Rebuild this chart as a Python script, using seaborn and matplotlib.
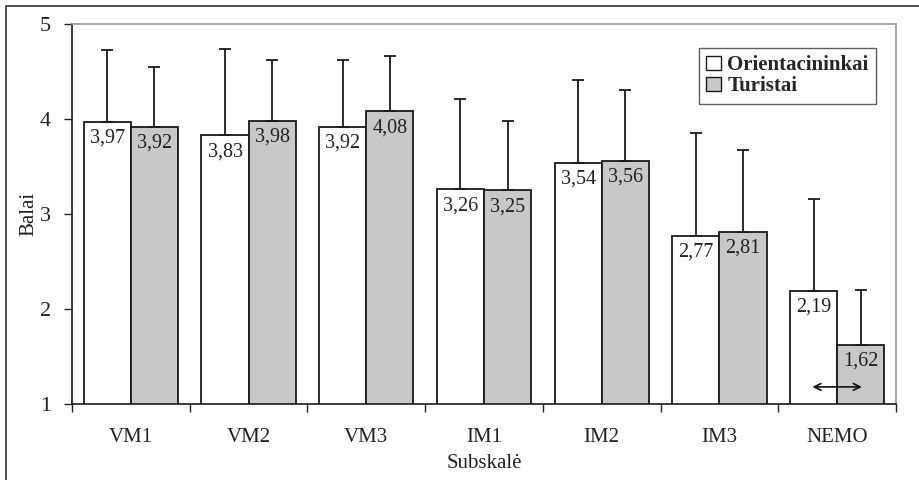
import numpy as np
import pandas as pd
import matplotlib
matplotlib.use("Agg")
import matplotlib.pyplot as plt
import seaborn as sns
from matplotlib.patches import Rectangle

subscales = ["VM1", "VM2", "VM3", "IM1", "IM2", "IM3", "NEMO"]
groups = ["Orientacininkai", "Turistai"]
orient_means = [3.97, 3.83, 3.92, 3.26, 3.54, 2.77, 2.19]
turist_means = [3.92, 3.98, 4.08, 3.25, 3.56, 2.81, 1.62]
orient_sd = [0.76, 0.91, 0.70, 0.95, 0.87, 1.08, 0.97]
turist_sd = [0.63, 0.64, 0.58, 0.73, 0.75, 0.86, 0.58]
y_ticks = [1, 2, 3, 4, 5]

df = pd.DataFrame({
    "Subskalė": subscales * 2,
    "grupė": [groups[0]] * len(subscales) + [groups[1]] * len(subscales),
    "Balai": orient_means + turist_means,
    "sd": orient_sd + turist_sd,
})

sns.set_style("white")
plt.rcParams["font.family"] = ["Liberation Serif", "DejaVu Serif"]
plt.rcParams["font.size"] = 14

fig = plt.figure(figsize=(9.2, 4.8), dpi=100)
ax = fig.add_axes([72 / 920, 76 / 480, 824 / 920, 380 / 480])

palette = {groups[0]: "#ffffff", groups[1]: "#c8c8c8"}
sns.barplot(data=df, x="Subskalė", y="Balai", hue="grupė", palette=palette,
            order=subscales, hue_order=groups, width=0.8, gap=0,
            errorbar=None, edgecolor="#1a1a1a", linewidth=1.3,
            saturation=1, ax=ax, legend=True)

# upward-only error bars and value labels inside bar tops
for container, grp in zip(ax.containers, groups):
    sub = df[df["grupė"] == grp].set_index("Subskalė").loc[subscales]
    xs = [p.get_x() + p.get_width() / 2 for p in container]
    means = sub["Balai"].to_numpy()
    sds = sub["sd"].to_numpy()
    ax.errorbar(xs, means, yerr=[np.zeros_like(sds), sds], fmt="none",
                ecolor="#1a1a1a", elinewidth=1.3, capsize=4.5, capthick=1.3,
                zorder=1)
    for x, m in zip(xs, means):
        ax.annotate(f"{m:.2f}".replace(".", ","), (x, m), xytext=(0, -5),
                    textcoords="offset points", ha="center", va="top",
                    fontsize=14.5, color="#222222", zorder=5)

ax.set_ylim(1, 5)
ax.set_xlim(-0.5, len(subscales) - 0.5)
ax.set_yticks(y_ticks)
ax.set_yticklabels([str(t) for t in y_ticks], fontsize=16, color="#222222")
ax.set_xticks(range(len(subscales)))
ax.set_xticklabels(subscales, fontsize=15, color="#222222")
ax.tick_params(axis="x", length=0, pad=17)
ax.tick_params(axis="y", direction="out", length=6, width=1, color="#222222", left=True, pad=9)
# category boundary ticks on the x axis
ax.set_xticks(np.arange(-0.5, len(subscales), 1), minor=True)
ax.tick_params(axis="x", which="minor", direction="out", length=6, width=1,
               color="#222222", bottom=True)

ax.set_xlabel("Subskalė", fontsize=15, color="#222222", labelpad=5)
ax.set_ylabel("Balai", fontsize=15, color="#222222", labelpad=1)

for side in ["left", "bottom"]:
    ax.spines[side].set_color("#1a1a1a")
    ax.spines[side].set_linewidth(1.2)
for side in ["top", "right"]:
    ax.spines[side].set_visible(True)
    ax.spines[side].set_color("#9a9a9a")
    ax.spines[side].set_linewidth(1.2)

# double-headed arrow under the NEMO bars
ax.annotate("", xy=(6.21, 1.18), xytext=(5.79, 1.18),
            arrowprops=dict(arrowstyle="<->", color="#111111", lw=1.2,
                            shrinkA=0, shrinkB=0, mutation_scale=12))

leg = ax.legend(loc="upper left", bbox_to_anchor=((699 - 72) / 824, (404 - 48) / 380),
                frameon=True, fancybox=False, handlelength=0.7, handleheight=0.7,
                handletextpad=0.3, borderpad=0.35, labelspacing=0.05,
                borderaxespad=0, prop={"weight": "bold", "size": 15})
leg.get_frame().set_edgecolor("#333333")
leg.get_frame().set_linewidth(1.0)
for h in leg.legend_handles:
    h.set_edgecolor("#1a1a1a")
    h.set_linewidth(1.0)

# outer frame around the figure (left and top edges)
fig.patches.append(Rectangle((6 / 920, -0.1), 1.2, (480 - 6) / 480 + 0.1,
                             transform=fig.transFigure, fill=False,
                             edgecolor="#333333", linewidth=1.2))

fig.savefig("out.png", dpi=100)
